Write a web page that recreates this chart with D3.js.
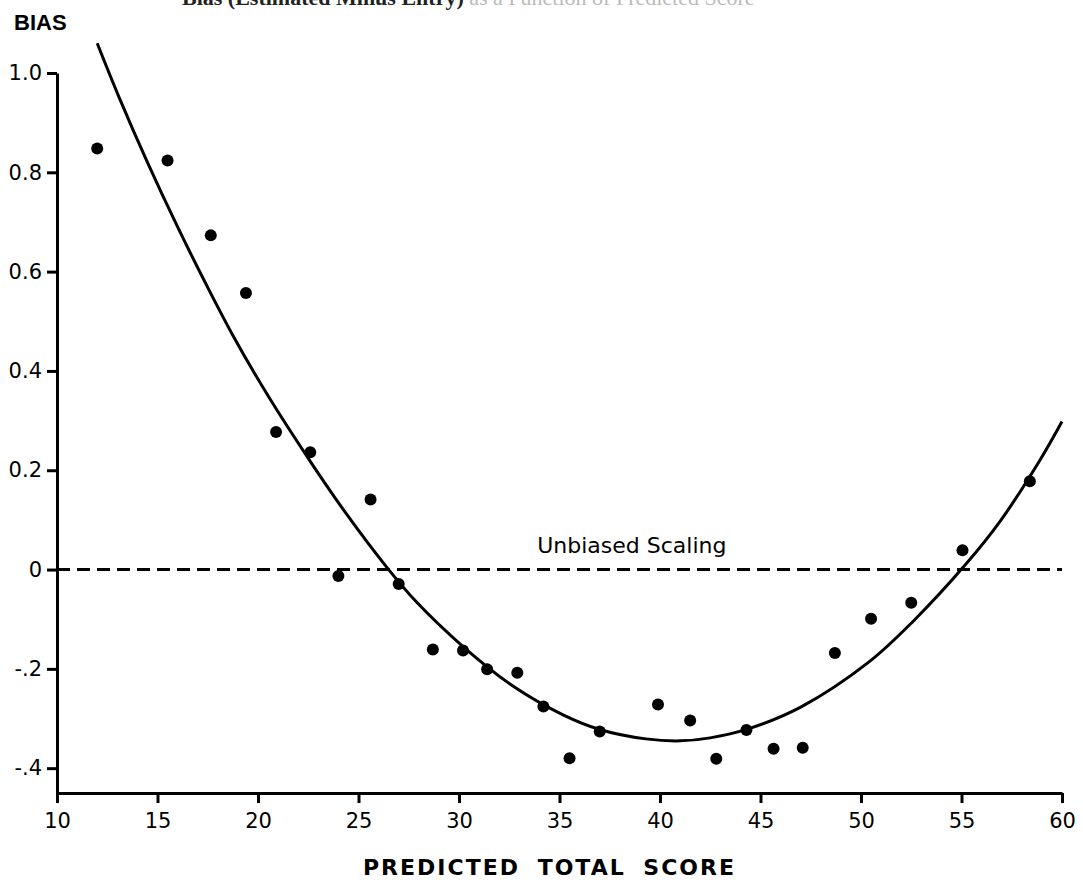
<!DOCTYPE html>
<html>
<head>
<meta charset="utf-8">
<script src="https://cdn.jsdelivr.net/npm/d3@7"></script>
<style>
  body { margin: 0; background: #fff; }
  svg { display: block; }
  .axis path, .axis line { stroke: #000; stroke-width: 3; }
  .axis text { font-family: "DejaVu Sans", sans-serif; font-size: 21px; fill: #000; }
</style>
</head>
<body>
<svg id="chart"></svg>
<script>
// observed points (predicted total score, bias)
const scores = [12.0, 15.5, 17.65, 19.4, 20.9, 22.6, 24.0, 25.6, 27.0, 28.7, 30.2, 31.4, 32.9, 34.2,
                35.5, 37.0, 39.9, 41.5, 42.8, 44.3, 45.65, 47.1, 48.7, 50.5, 52.5, 55.05, 58.4];
const bias = [0.848, 0.824, 0.673, 0.557, 0.277, 0.236, -0.013, 0.141, -0.029, -0.161, -0.163, -0.201, -0.208, -0.276,
              -0.38, -0.326, -0.272, -0.304, -0.381, -0.323, -0.361, -0.359, -0.168, -0.099, -0.067, 0.039, 0.178];

// fitted curve
const curveX = [12.0, 13.1, 14.5, 16.0, 17.45, 18.8, 20.5, 22.6, 24.4, 26.4, 27.9, 30.2, 32.7, 35.2,
                37.0, 39.3, 41.0, 42.5, 44.3, 47.0, 50.4, 52.6, 55.2, 56.9, 58.9, 60.0];
const curveY = [1.06, 0.95, 0.82, 0.69, 0.572, 0.468, 0.35, 0.218, 0.112, 0.005, -0.066, -0.155, -0.235, -0.293,
                -0.322, -0.341, -0.345, -0.339, -0.322, -0.277, -0.186, -0.104, 0.01, 0.096, 0.22, 0.298];

const xTicks = [10, 15, 20, 25, 30, 35, 40, 45, 50, 55, 60];
const yTicks = [1.0, 0.8, 0.6, 0.4, 0.2, 0, -0.2, -0.4];
const yTickLabels = ['1.0', '0.8', '0.6', '0.4', '0.2', '0', '-.2', '-.4'];

class BiasPlot {

    constructor(_config) {
        this.config = {
            parentElement: _config.parentElement,
            containerWidth: 1083,
            containerHeight: 886,
            margin: { top: 73, bottom: 93, right: 21, left: 57 }
        };
        this.initVis();
    }

    initVis() {
        let vis = this;

        vis.width = vis.config.containerWidth - vis.config.margin.left - vis.config.margin.right;
        vis.height = vis.config.containerHeight - vis.config.margin.top - vis.config.margin.bottom;

        vis.xScale = d3.scaleLinear().domain([10, 60]).range([0, vis.width]);
        // axis runs a little below -.4
        vis.yScale = d3.scaleLinear().domain([-0.45, 1.0]).range([vis.height, 0]);

        vis.svg = d3.select(vis.config.parentElement)
            .attr('width', vis.config.containerWidth)
            .attr('height', vis.config.containerHeight);

        vis.chart = vis.svg.append('g')
            .attr('transform', `translate(${vis.config.margin.left},${vis.config.margin.top})`);

        vis.xAxis = d3.axisBottom(vis.xScale)
            .tickValues(xTicks)
            .tickSize(10)
            .tickSizeOuter(0)
            .tickPadding(10)
            .tickFormat(d3.format('d'));

        vis.yAxis = d3.axisLeft(vis.yScale)
            .tickValues(yTicks)
            .tickSize(10)
            .tickSizeOuter(0)
            .tickPadding(5)
            .tickFormat((d, i) => yTickLabels[i]);

        vis.renderVis();
    }

    renderVis() {
        let vis = this;

        // heading cut off at the top edge of the scan
        const head = vis.svg.append('text')
            .attr('x', 182)
            .attr('y', 5)
            .attr('font-family', '"Liberation Serif", serif')
            .attr('font-size', 22)
            .attr('font-weight', 'bold')
            .attr('fill', '#222');
        head.append('tspan').text('Bias (Estimated Minus Entry)');
        head.append('tspan').attr('fill', '#bbb').attr('font-weight', 'normal')
            .text(' as a Function of Predicted Score');

        vis.svg.append('text')
            .attr('x', 14)
            .attr('y', 30)
            .attr('font-family', '"Liberation Sans", sans-serif')
            .attr('font-weight', 'bold')
            .attr('font-size', 22)
            .text('BIAS');

        // zero line
        vis.chart.append('line')
            .attr('x1', 0)
            .attr('x2', vis.width)
            .attr('y1', vis.yScale(0))
            .attr('y2', vis.yScale(0))
            .attr('stroke', '#000')
            .attr('stroke-width', 3)
            .attr('stroke-dasharray', '13,7');

        vis.chart.append('text')
            .attr('x', vis.xScale(38.6))
            .attr('y', vis.yScale(0) - 17)
            .attr('text-anchor', 'middle')
            .attr('font-family', '"DejaVu Sans", sans-serif')
            .attr('font-size', 22)
            .text('Unbiased Scaling');

        const curveData = curveX.map((x, i) => ({ x: x, y: curveY[i] }));
        vis.line = d3.line()
            .x(d => vis.xScale(d.x))
            .y(d => vis.yScale(d.y))
            .curve(d3.curveCatmullRom.alpha(0.5));

        vis.chart.append('path')
            .datum(curveData)
            .attr('fill', 'none')
            .attr('stroke', '#000')
            .attr('stroke-width', 3)
            .attr('d', vis.line);

        const points = scores.map((s, i) => ({ x: s, y: bias[i] }));
        vis.chart.selectAll('.dot')
            .data(points)
            .join('circle')
            .attr('class', 'dot')
            .attr('cx', d => vis.xScale(d.x))
            .attr('cy', d => vis.yScale(d.y))
            .attr('r', 6)
            .attr('fill', '#000');

        vis.xAxisG = vis.chart.append('g')
            .attr('class', 'axis x-axis')
            .attr('transform', `translate(0,${vis.height})`)
            .call(vis.xAxis);

        vis.yAxisG = vis.chart.append('g')
            .attr('class', 'axis y-axis')
            .call(vis.yAxis);

        vis.chart.append('text')
            .attr('x', vis.width / 2 - 10)
            .attr('y', vis.height + 82)
            .attr('text-anchor', 'middle')
            .attr('font-family', '"DejaVu Sans", sans-serif')
            .attr('font-weight', 'bold')
            .attr('font-size', 22)
            .attr('letter-spacing', 2)
            .attr('word-spacing', 8)
            .text('PREDICTED TOTAL SCORE');
    }
}

const plot = new BiasPlot({ parentElement: '#chart' });
</script>
</body>
</html>
